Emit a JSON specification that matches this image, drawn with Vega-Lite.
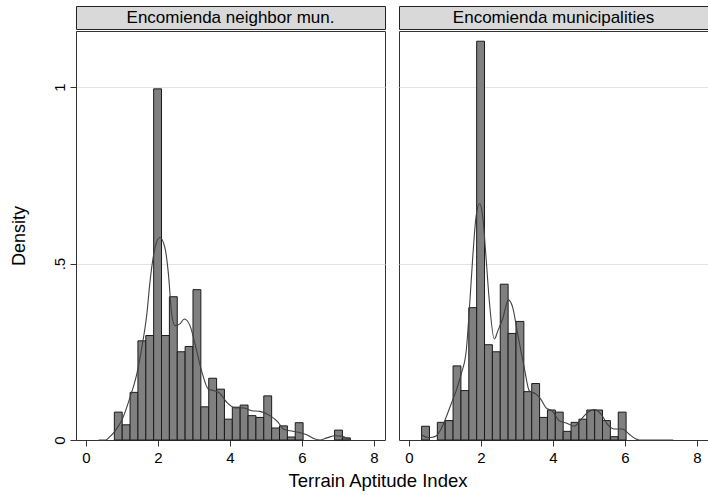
{
  "$schema": "https://vega.github.io/schema/vega-lite/v6.json",
  "autosize": {"type": "pad"},
  "padding": {"left": 9, "top": 5, "right": 1, "bottom": 5},
  "background": "white",
  "datasets": {
    "hist": [
      {"panel": "Encomienda neighbor mun.", "x0": 0.787, "x1": 1.0055, "density": 0.079},
      {"panel": "Encomienda neighbor mun.", "x0": 1.0055, "x1": 1.224, "density": 0.043},
      {"panel": "Encomienda neighbor mun.", "x0": 1.224, "x1": 1.4425, "density": 0.135},
      {"panel": "Encomienda neighbor mun.", "x0": 1.4425, "x1": 1.661, "density": 0.281},
      {"panel": "Encomienda neighbor mun.", "x0": 1.661, "x1": 1.8795, "density": 0.296},
      {"panel": "Encomienda neighbor mun.", "x0": 1.8795, "x1": 2.098, "density": 0.995},
      {"panel": "Encomienda neighbor mun.", "x0": 2.098, "x1": 2.3165, "density": 0.296},
      {"panel": "Encomienda neighbor mun.", "x0": 2.3165, "x1": 2.535, "density": 0.406},
      {"panel": "Encomienda neighbor mun.", "x0": 2.535, "x1": 2.7535, "density": 0.25},
      {"panel": "Encomienda neighbor mun.", "x0": 2.7535, "x1": 2.972, "density": 0.265},
      {"panel": "Encomienda neighbor mun.", "x0": 2.972, "x1": 3.1905, "density": 0.426},
      {"panel": "Encomienda neighbor mun.", "x0": 3.1905, "x1": 3.409, "density": 0.094},
      {"panel": "Encomienda neighbor mun.", "x0": 3.409, "x1": 3.6275, "density": 0.175},
      {"panel": "Encomienda neighbor mun.", "x0": 3.6275, "x1": 3.846, "density": 0.144},
      {"panel": "Encomienda neighbor mun.", "x0": 3.846, "x1": 4.0645, "density": 0.059},
      {"panel": "Encomienda neighbor mun.", "x0": 4.0645, "x1": 4.283, "density": 0.093},
      {"panel": "Encomienda neighbor mun.", "x0": 4.283, "x1": 4.5015, "density": 0.099},
      {"panel": "Encomienda neighbor mun.", "x0": 4.5015, "x1": 4.72, "density": 0.069},
      {"panel": "Encomienda neighbor mun.", "x0": 4.72, "x1": 4.9385, "density": 0.064},
      {"panel": "Encomienda neighbor mun.", "x0": 4.9385, "x1": 5.157, "density": 0.125},
      {"panel": "Encomienda neighbor mun.", "x0": 5.157, "x1": 5.3755, "density": 0.034},
      {"panel": "Encomienda neighbor mun.", "x0": 5.3755, "x1": 5.594, "density": 0.040},
      {"panel": "Encomienda neighbor mun.", "x0": 5.594, "x1": 5.8125, "density": 0.0085},
      {"panel": "Encomienda neighbor mun.", "x0": 5.8125, "x1": 6.031, "density": 0.049},
      {"panel": "Encomienda neighbor mun.", "x0": 6.905, "x1": 7.1235, "density": 0.028},
      {"panel": "Encomienda neighbor mun.", "x0": 7.1235, "x1": 7.342, "density": 0.006},
      {"panel": "Encomienda municipalities", "x0": 0.35, "x1": 0.5685, "density": 0.039},
      {"panel": "Encomienda municipalities", "x0": 0.787, "x1": 1.0055, "density": 0.05},
      {"panel": "Encomienda municipalities", "x0": 1.0055, "x1": 1.224, "density": 0.055},
      {"panel": "Encomienda municipalities", "x0": 1.224, "x1": 1.4425, "density": 0.21},
      {"panel": "Encomienda municipalities", "x0": 1.4425, "x1": 1.661, "density": 0.14},
      {"panel": "Encomienda municipalities", "x0": 1.661, "x1": 1.8795, "density": 0.375},
      {"panel": "Encomienda municipalities", "x0": 1.8795, "x1": 2.098, "density": 1.13},
      {"panel": "Encomienda municipalities", "x0": 2.098, "x1": 2.3165, "density": 0.27},
      {"panel": "Encomienda municipalities", "x0": 2.3165, "x1": 2.535, "density": 0.25},
      {"panel": "Encomienda municipalities", "x0": 2.535, "x1": 2.7535, "density": 0.4415},
      {"panel": "Encomienda municipalities", "x0": 2.7535, "x1": 2.972, "density": 0.302},
      {"panel": "Encomienda municipalities", "x0": 2.972, "x1": 3.1905, "density": 0.336},
      {"panel": "Encomienda municipalities", "x0": 3.1905, "x1": 3.409, "density": 0.137},
      {"panel": "Encomienda municipalities", "x0": 3.409, "x1": 3.6275, "density": 0.16},
      {"panel": "Encomienda municipalities", "x0": 3.6275, "x1": 3.846, "density": 0.064},
      {"panel": "Encomienda municipalities", "x0": 3.846, "x1": 4.0645, "density": 0.085},
      {"panel": "Encomienda municipalities", "x0": 4.0645, "x1": 4.283, "density": 0.079},
      {"panel": "Encomienda municipalities", "x0": 4.283, "x1": 4.5015, "density": 0.0245},
      {"panel": "Encomienda municipalities", "x0": 4.5015, "x1": 4.72, "density": 0.05},
      {"panel": "Encomienda municipalities", "x0": 4.72, "x1": 4.9385, "density": 0.059},
      {"panel": "Encomienda municipalities", "x0": 4.9385, "x1": 5.157, "density": 0.085},
      {"panel": "Encomienda municipalities", "x0": 5.157, "x1": 5.3755, "density": 0.085},
      {"panel": "Encomienda municipalities", "x0": 5.3755, "x1": 5.594, "density": 0.055},
      {"panel": "Encomienda municipalities", "x0": 5.594, "x1": 5.8125, "density": 0.0094},
      {"panel": "Encomienda municipalities", "x0": 5.8125, "x1": 6.031, "density": 0.079}
    ],
    "kde": [
      {"panel": "Encomienda neighbor mun.", "x": 0.35, "density": 0.0},
      {"panel": "Encomienda neighbor mun.", "x": 0.55, "density": 0.0},
      {"panel": "Encomienda neighbor mun.", "x": 0.65, "density": 0.008},
      {"panel": "Encomienda neighbor mun.", "x": 0.81, "density": 0.026},
      {"panel": "Encomienda neighbor mun.", "x": 0.99, "density": 0.055},
      {"panel": "Encomienda neighbor mun.", "x": 1.22, "density": 0.12},
      {"panel": "Encomienda neighbor mun.", "x": 1.41, "density": 0.187},
      {"panel": "Encomienda neighbor mun.", "x": 1.55, "density": 0.262},
      {"panel": "Encomienda neighbor mun.", "x": 1.69, "density": 0.357},
      {"panel": "Encomienda neighbor mun.", "x": 1.78, "density": 0.451},
      {"panel": "Encomienda neighbor mun.", "x": 1.92, "density": 0.546},
      {"panel": "Encomienda neighbor mun.", "x": 2.05, "density": 0.574},
      {"panel": "Encomienda neighbor mun.", "x": 2.19, "density": 0.546},
      {"panel": "Encomienda neighbor mun.", "x": 2.29, "density": 0.47},
      {"panel": "Encomienda neighbor mun.", "x": 2.38, "density": 0.357},
      {"panel": "Encomienda neighbor mun.", "x": 2.47, "density": 0.324},
      {"panel": "Encomienda neighbor mun.", "x": 2.61, "density": 0.329},
      {"panel": "Encomienda neighbor mun.", "x": 2.73, "density": 0.343},
      {"panel": "Encomienda neighbor mun.", "x": 2.89, "density": 0.324},
      {"panel": "Encomienda neighbor mun.", "x": 3.03, "density": 0.272},
      {"panel": "Encomienda neighbor mun.", "x": 3.21, "density": 0.196},
      {"panel": "Encomienda neighbor mun.", "x": 3.40, "density": 0.144},
      {"panel": "Encomienda neighbor mun.", "x": 3.54, "density": 0.14},
      {"panel": "Encomienda neighbor mun.", "x": 3.72, "density": 0.132},
      {"panel": "Encomienda neighbor mun.", "x": 3.91, "density": 0.107},
      {"panel": "Encomienda neighbor mun.", "x": 4.14, "density": 0.091},
      {"panel": "Encomienda neighbor mun.", "x": 4.37, "density": 0.091},
      {"panel": "Encomienda neighbor mun.", "x": 4.60, "density": 0.083},
      {"panel": "Encomienda neighbor mun.", "x": 4.83, "density": 0.081},
      {"panel": "Encomienda neighbor mun.", "x": 5.11, "density": 0.069},
      {"panel": "Encomienda neighbor mun.", "x": 5.34, "density": 0.05},
      {"panel": "Encomienda neighbor mun.", "x": 5.48, "density": 0.031},
      {"panel": "Encomienda neighbor mun.", "x": 5.67, "density": 0.026},
      {"panel": "Encomienda neighbor mun.", "x": 5.90, "density": 0.022},
      {"panel": "Encomienda neighbor mun.", "x": 6.13, "density": 0.015},
      {"panel": "Encomienda neighbor mun.", "x": 6.36, "density": 0.003},
      {"panel": "Encomienda neighbor mun.", "x": 6.50, "density": 0.0},
      {"panel": "Encomienda neighbor mun.", "x": 6.69, "density": 0.006},
      {"panel": "Encomienda neighbor mun.", "x": 6.92, "density": 0.012},
      {"panel": "Encomienda neighbor mun.", "x": 7.10, "density": 0.011},
      {"panel": "Encomienda neighbor mun.", "x": 7.29, "density": 0.003},
      {"panel": "Encomienda neighbor mun.", "x": 7.34, "density": 0.001},
      {"panel": "Encomienda municipalities", "x": 0.35, "density": 0.014},
      {"panel": "Encomienda municipalities", "x": 0.53, "density": 0.007},
      {"panel": "Encomienda municipalities", "x": 0.65, "density": 0.008},
      {"panel": "Encomienda municipalities", "x": 0.76, "density": 0.012},
      {"panel": "Encomienda municipalities", "x": 0.89, "density": 0.031},
      {"panel": "Encomienda municipalities", "x": 1.03, "density": 0.064},
      {"panel": "Encomienda municipalities", "x": 1.17, "density": 0.102},
      {"panel": "Encomienda municipalities", "x": 1.31, "density": 0.14},
      {"panel": "Encomienda municipalities", "x": 1.45, "density": 0.187},
      {"panel": "Encomienda municipalities", "x": 1.59, "density": 0.253},
      {"panel": "Encomienda municipalities", "x": 1.68, "density": 0.376},
      {"panel": "Encomienda municipalities", "x": 1.77, "density": 0.517},
      {"panel": "Encomienda municipalities", "x": 1.86, "density": 0.631},
      {"panel": "Encomienda municipalities", "x": 1.96, "density": 0.67},
      {"panel": "Encomienda municipalities", "x": 2.05, "density": 0.631},
      {"panel": "Encomienda municipalities", "x": 2.14, "density": 0.517},
      {"panel": "Encomienda municipalities", "x": 2.23, "density": 0.395},
      {"panel": "Encomienda municipalities", "x": 2.37, "density": 0.286},
      {"panel": "Encomienda municipalities", "x": 2.47, "density": 0.31},
      {"panel": "Encomienda municipalities", "x": 2.60, "density": 0.343},
      {"panel": "Encomienda municipalities", "x": 2.76, "density": 0.397},
      {"panel": "Encomienda municipalities", "x": 2.88, "density": 0.376},
      {"panel": "Encomienda municipalities", "x": 3.02, "density": 0.30},
      {"panel": "Encomienda municipalities", "x": 3.20, "density": 0.206},
      {"panel": "Encomienda municipalities", "x": 3.34, "density": 0.14},
      {"panel": "Encomienda municipalities", "x": 3.53, "density": 0.13},
      {"panel": "Encomienda municipalities", "x": 3.66, "density": 0.116},
      {"panel": "Encomienda municipalities", "x": 3.80, "density": 0.092},
      {"panel": "Encomienda municipalities", "x": 3.99, "density": 0.081},
      {"panel": "Encomienda municipalities", "x": 4.17, "density": 0.055},
      {"panel": "Encomienda municipalities", "x": 4.40, "density": 0.047},
      {"panel": "Encomienda municipalities", "x": 4.59, "density": 0.039},
      {"panel": "Encomienda municipalities", "x": 4.77, "density": 0.057},
      {"panel": "Encomienda municipalities", "x": 4.96, "density": 0.078},
      {"panel": "Encomienda municipalities", "x": 5.14, "density": 0.086},
      {"panel": "Encomienda municipalities", "x": 5.33, "density": 0.074},
      {"panel": "Encomienda municipalities", "x": 5.51, "density": 0.045},
      {"panel": "Encomienda municipalities", "x": 5.70, "density": 0.031},
      {"panel": "Encomienda municipalities", "x": 5.93, "density": 0.031},
      {"panel": "Encomienda municipalities", "x": 6.11, "density": 0.017},
      {"panel": "Encomienda municipalities", "x": 6.30, "density": 0.003},
      {"panel": "Encomienda municipalities", "x": 6.39, "density": 0.0},
      {"panel": "Encomienda municipalities", "x": 7.34, "density": 0.0}
    ],
    "panels": [
      {"panel": "Encomienda neighbor mun."},
      {"panel": "Encomienda municipalities"}
    ]
  },
  "title": {
    "text": "Terrain Aptitude Index",
    "orient": "bottom",
    "anchor": "middle",
    "fontSize": 18.5,
    "font": "Liberation Sans",
    "fontWeight": "normal",
    "color": "black",
    "offset": 6,
    "dx": 19
  },
  "spacing": 12,
  "hconcat": [
    {
      "spacing": 0,
      "vconcat": [
        {
          "width": 309,
          "height": 23,
          "view": {"fill": "#d9d9d9", "stroke": "#222222", "strokeWidth": 1},
          "data": {"name": "panels"},
          "transform": [{"filter": "datum.panel === 'Encomienda neighbor mun.'"}],
          "mark": {"type": "text", "fontSize": 17, "font": "Liberation Sans", "color": "black", "baseline": "middle"},
          "encoding": {"text": {"field": "panel", "type": "nominal"}}
        },
        {
          "width": 309,
          "height": 409,
          "view": {"stroke": "#333333", "strokeWidth": 1},
          "layer": [
            {
              "data": {"name": "hist"},
              "transform": [{"filter": "datum.panel === 'Encomienda neighbor mun.'"}],
              "mark": {"type": "rect", "fill": "#808080", "stroke": "#1a1a1a", "strokeWidth": 1},
              "encoding": {
                "x": {"field": "x0", "type": "quantitative"},
                "x2": {"field": "x1"},
                "y": {"field": "density", "type": "quantitative"},
                "y2": {"datum": 0}
              }
            },
            {
              "data": {"name": "kde"},
              "transform": [{"filter": "datum.panel === 'Encomienda neighbor mun.'"}],
              "mark": {"type": "line", "color": "#404040", "strokeWidth": 1.1, "interpolate": "monotone"},
              "encoding": {
                "x": {"field": "x", "type": "quantitative"},
                "y": {"field": "density", "type": "quantitative"}
              }
            }
          ],
          "encoding": {
            "x": {
              "type": "quantitative",
              "scale": {"domain": [-0.278, 8.306], "nice": false, "zero": false},
              "axis": {"values": [0, 2, 4, 6, 8], "title": null, "grid": false}
            },
            "y": {
              "type": "quantitative",
              "scale": {"domain": [0, 1.159], "nice": false},
              "axis": {
                "values": [0, 0.5, 1],
                "labelExpr": "datum.value === 0.5 ? '.5' : (datum.value === 1 ? '1' : '0')",
                "labelAngle": -90,
                "title": "Density",
                "grid": true
              }
            }
          }
        }
      ]
    },
    {
      "spacing": 0,
      "vconcat": [
        {
          "width": 309,
          "height": 23,
          "view": {"fill": "#d9d9d9", "stroke": "#222222", "strokeWidth": 1},
          "data": {"name": "panels"},
          "transform": [{"filter": "datum.panel === 'Encomienda municipalities'"}],
          "mark": {"type": "text", "fontSize": 17, "font": "Liberation Sans", "color": "black", "baseline": "middle"},
          "encoding": {"text": {"field": "panel", "type": "nominal"}}
        },
        {
          "width": 309,
          "height": 409,
          "view": {"stroke": "#333333", "strokeWidth": 1},
          "layer": [
            {
              "data": {"name": "hist"},
              "transform": [{"filter": "datum.panel === 'Encomienda municipalities'"}],
              "mark": {"type": "rect", "fill": "#808080", "stroke": "#1a1a1a", "strokeWidth": 1},
              "encoding": {
                "x": {"field": "x0", "type": "quantitative"},
                "x2": {"field": "x1"},
                "y": {"field": "density", "type": "quantitative"},
                "y2": {"datum": 0}
              }
            },
            {
              "data": {"name": "kde"},
              "transform": [{"filter": "datum.panel === 'Encomienda municipalities'"}],
              "mark": {"type": "line", "color": "#404040", "strokeWidth": 1.1, "interpolate": "monotone"},
              "encoding": {
                "x": {"field": "x", "type": "quantitative"},
                "y": {"field": "density", "type": "quantitative"}
              }
            }
          ],
          "encoding": {
            "x": {
              "type": "quantitative",
              "scale": {"domain": [-0.278, 8.306], "nice": false, "zero": false},
              "axis": {"values": [0, 2, 4, 6, 8], "title": null, "grid": false}
            },
            "y": {
              "type": "quantitative",
              "scale": {"domain": [0, 1.159], "nice": false},
              "axis": {
                "values": [0, 0.5, 1],
                "labels": false,
                "ticks": false,
                "domain": false,
                "title": null,
                "grid": true
              }
            }
          }
        }
      ]
    }
  ],
  "resolve": {"scale": {"x": "independent", "y": "independent"}},
  "config": {
    "font": "Liberation Sans",
    "view": {"stroke": "#333333"},
    "axis": {
      "labelFont": "Liberation Sans",
      "labelFontSize": 15,
      "labelColor": "black",
      "titleFont": "Liberation Sans",
      "titleFontSize": 18,
      "titleFontWeight": "normal",
      "titleColor": "black",
      "domainColor": "#333333",
      "tickColor": "#333333",
      "tickSize": 6,
      "labelPadding": 4,
      "gridColor": "#e3e3e3",
      "gridWidth": 1.2
    },
    "axisY": {"titlePadding": 24.5, "labelPadding": 2.5}
  }
}
